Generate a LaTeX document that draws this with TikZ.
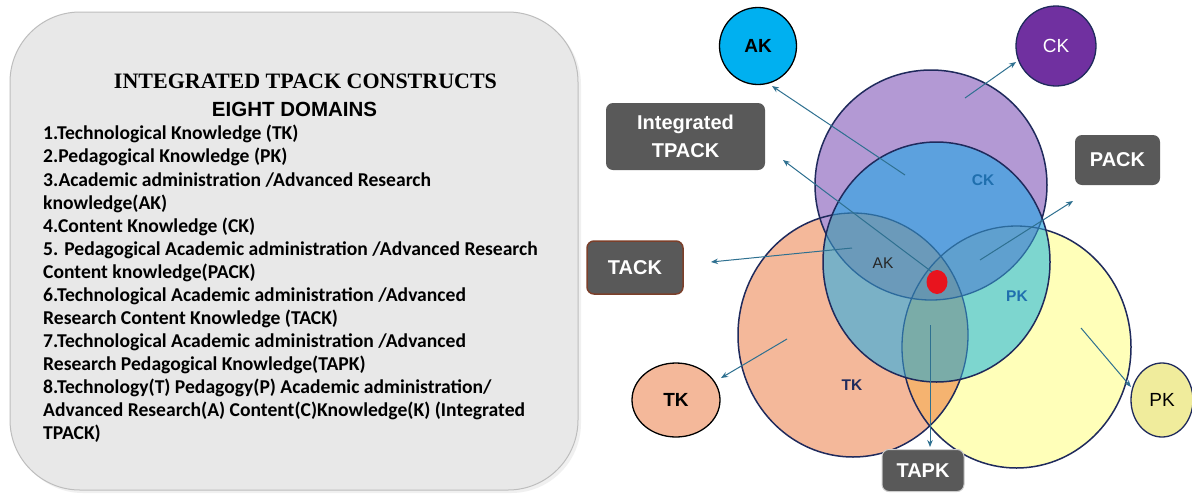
\documentclass[tikz,border=0pt]{standalone}
\usepackage{fontspec}
\setmainfont{Carlito}
\newfontfamily\boxfont{Liberation Sans}
\newfontfamily\titlefont{Liberation Serif}
\usetikzlibrary{arrows.meta,shapes.geometric}
\definecolor{panelfill}{HTML}{E8E8E8}
\definecolor{panelline}{HTML}{BDBDBD}
\definecolor{navy}{HTML}{1F2A5C}
\definecolor{innerline}{HTML}{2C6A9C}
\definecolor{cOrange}{HTML}{F4B89A}
\definecolor{cYellow}{HTML}{FFFFB9}
\definecolor{cPurple}{HTML}{B399D4}
\definecolor{cOY}{HTML}{F5B370}
\definecolor{cB}{HTML}{6FC3EA}
\definecolor{cBO}{HTML}{7AB1C6}
\definecolor{cBY}{HTML}{7DD6CF}
\definecolor{cBOY}{HTML}{7AACA8}
\definecolor{cBP}{HTML}{5CA1DE}
\definecolor{cBPO}{HTML}{6B9ABA}
\definecolor{cBPY}{HTML}{5FA0CF}
\definecolor{cBPOY}{HTML}{6696B0}
\definecolor{boxgrey}{HTML}{595959}
\definecolor{tackline}{HTML}{7B3F2A}
\definecolor{arrowc}{HTML}{2E7090}
\definecolor{akfill}{HTML}{00B0F0}
\definecolor{ckfill}{HTML}{7030A0}
\definecolor{tkfill}{HTML}{F4B89A}
\definecolor{pkfill}{HTML}{F0EC9C}
\definecolor{labblue}{HTML}{1F6FAE}
\definecolor{reddot}{HTML}{E8141E}
\def\orangepath{(853,335) ellipse [x radius=115pt, y radius=122pt]}
\def\yellowpath{(1016.5,347) ellipse [x radius=114.5pt, y radius=121pt]}
\def\purplepath{(931,185) ellipse [x radius=116pt, y radius=115pt]}
\def\bluepath{(936.5,262) ellipse [x radius=113.5pt, y radius=120pt]}
\tikzset{
  listline/.style={anchor=base west, inner sep=0pt, font=\bfseries\fontsize{19.6pt}{23pt}\selectfont},
  greybox/.style={draw=none, fill=boxgrey, rounded corners=7pt, text=white, font=\boxfont\bfseries\fontsize{20pt}{28pt}\selectfont, align=center, inner sep=0pt},
  conn/.style={draw=arrowc, line width=1pt, -{Stealth[length=7pt,width=5.5pt]}},
  smallc/.style={ellipse, line width=1.3pt, inner sep=0pt, font=\boxfont\fontsize{19pt}{22pt}\selectfont},
  vlab/.style={inner sep=0pt, font=\boxfont\fontsize{15.5pt}{17pt}\selectfont},
  vlabb/.style={inner sep=0pt, font=\boxfont\bfseries\fontsize{15.5pt}{17pt}\selectfont},
}
\begin{document}
\begin{tikzpicture}[x=1pt,y=-1pt]
\useasboundingbox[fill=white] (0,0) rectangle (1192,496);
% left panel
\fill[black!6, rounded corners=70pt] (13,15) rectangle (581,493);
\node[draw=panelline, fill=panelfill, line width=1pt, rounded corners=70pt, minimum width=568pt, minimum height=478pt, inner sep=0pt] (panel) at (294,251) {};
\node[anchor=base, inner sep=0pt, font=\titlefont\bfseries\fontsize{22pt}{24pt}\selectfont] (title) at (305.5,88) {INTEGRATED TPACK CONSTRUCTS};
\node[anchor=base, inner sep=0pt, font=\boxfont\bfseries\fontsize{20.5pt}{22pt}\selectfont] (sub) at (294.5,116) {EIGHT DOMAINS};
\node[listline] (l1) at (43,139) {1.Technological Knowledge (TK)};
\node[listline] (l2) at (43,162) {2.Pedagogical Knowledge (PK)};
\node[listline] (l3) at (43,186) {3.Academic administration /Advanced Research};
\node[listline] (l4) at (43,209) {knowledge(AK)};
\node[listline] (l5) at (43,232) {4.Content Knowledge (CK)};
\node[listline] (l6) at (43,255) {5. Pedagogical Academic administration /Advanced Research};
\node[listline] (l7) at (43,278) {Content knowledge(PACK)};
\node[listline] (l8) at (43,301) {6.Technological Academic administration /Advanced};
\node[listline] (l9) at (43,324) {Research Content Knowledge (TACK)};
\node[listline] (l10) at (43,347) {7.Technological Academic administration /Advanced};
\node[listline] (l11) at (43,370) {Research Pedagogical Knowledge(TAPK)};
\node[listline] (l12) at (43,393) {8.Technology(T) Pedagogy(P) Academic administration/};
\node[listline] (l13) at (43,416) {Advanced Research(A) Content(C)Knowledge(K) (Integrated};
\node[listline] (l14) at (43,439) {TPACK)};
% Venn base fills
\fill[cOrange] \orangepath;
\fill[cYellow] \yellowpath;
\begin{scope}\clip \orangepath; \fill[cOY] \yellowpath; \end{scope}
\fill[cPurple] \purplepath;
\draw[navy, line width=1.5pt] \orangepath;
\draw[navy, line width=1.5pt] \yellowpath;
\draw[navy, line width=1.5pt] \purplepath;
% blue region layers
\begin{scope}
  \clip \bluepath;
  \fill[cB] \bluepath;
  \begin{scope}\clip \orangepath; \fill[cBO] (700,100) rectangle (1150,480); \end{scope}
  \begin{scope}\clip \yellowpath; \fill[cBY] (700,100) rectangle (1150,480); \end{scope}
  \begin{scope}\clip \orangepath; \clip \yellowpath; \fill[cBOY] (700,100) rectangle (1150,480); \end{scope}
  \begin{scope}\clip \purplepath; \fill[cBP] (700,100) rectangle (1150,480); \end{scope}
  \begin{scope}\clip \purplepath; \clip \orangepath; \fill[cBPO] (700,100) rectangle (1150,480); \end{scope}
  \begin{scope}\clip \purplepath; \clip \yellowpath; \fill[cBPY] (700,100) rectangle (1150,480); \end{scope}
  \begin{scope}\clip \purplepath; \clip \orangepath; \clip \yellowpath; \fill[cBPOY] (700,100) rectangle (1150,480); \end{scope}
  \draw[innerline, line width=1.3pt] \orangepath;
  \draw[innerline, line width=1.3pt] \yellowpath;
  \draw[innerline, line width=1.3pt] \purplepath;
\end{scope}
\draw[navy, line width=1.5pt] \bluepath;
% red dot
\fill[reddot] (937,282) ellipse [x radius=10.5pt, y radius=12pt];
% inner labels
\node[vlabb, text=labblue] (ckl) at (983,180) {CK};
\node[vlab, text=black!85] (akl) at (883,263) {AK};
\node[vlabb, text=labblue] (pkl) at (1017,296) {PK};
\node[vlabb, text=navy] (tkl) at (852,385) {TK};
% outer nodes
\node[smallc, circle, draw=black, fill=akfill, minimum size=77pt, font=\boxfont\bfseries\fontsize{19pt}{22pt}\selectfont] (AK) at (758,46) {AK};
\node[smallc, circle, draw=navy, fill=ckfill, minimum size=80pt, text=white] (CK) at (1056,46) {CK};
\node[smallc, draw=black, fill=tkfill, minimum width=88pt, minimum height=74pt, font=\boxfont\bfseries\fontsize{19pt}{22pt}\selectfont] (TK) at (676,400) {TK};
\node[smallc, draw=navy, fill=pkfill, minimum width=62pt, minimum height=74pt] (PK) at (1162,400) {PK};
\node[greybox, minimum width=159pt, minimum height=67pt] (ITP) at (685.5,136.5) {Integrated\\TPACK};
\node[greybox, minimum width=85pt, minimum height=50pt] (PACK) at (1117.5,160) {PACK};
\node[greybox, draw=tackline, line width=1.5pt, minimum width=96pt, minimum height=53pt] (TACK) at (635,267.5) {TACK};
\node[greybox, draw=black!20, line width=1pt, minimum width=82pt, minimum height=42pt] (TAPK) at (923,470.5) {TAPK};
% connectors
\coordinate (sAK) at (905,175);
\coordinate (eAK) at (772,86);
\coordinate (sCK) at (965,98);
\coordinate (eCK) at (1016,62);
\coordinate (sIT) at (932,272);
\coordinate (eIT) at (783,160);
\coordinate (sPA) at (980,260);
\coordinate (ePA) at (1073,201);
\coordinate (sTA) at (852,248);
\coordinate (eTA) at (711,262);
\coordinate (sTK) at (787,339);
\coordinate (eTK) at (721,378);
\coordinate (sPK) at (1081,328);
\coordinate (ePK) at (1131,387);
\coordinate (sTP) at (930,325);
\coordinate (eTP) at (930,447);
\draw[conn] (sAK) -- (eAK);
\draw[conn] (sCK) -- (eCK);
\draw[conn] (sIT) -- (eIT);
\draw[conn] (sPA) -- (ePA);
\draw[conn] (sTA) -- (eTA);
\draw[conn] (sTK) -- (eTK);
\draw[conn] (sPK) -- (ePK);
\draw[conn] (sTP) -- (eTP);
\end{tikzpicture}
\end{document}
